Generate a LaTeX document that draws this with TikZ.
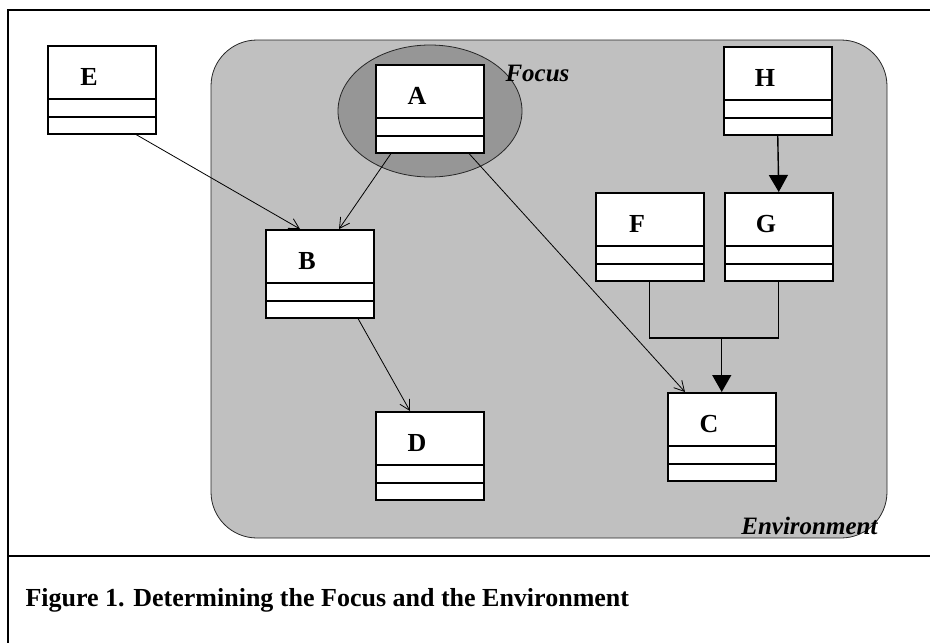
\documentclass[tikz,border=0pt]{standalone}
\usepackage{fontspec}
\setmainfont{Liberation Serif}
\usetikzlibrary{arrows.meta,shapes.geometric}
\definecolor{envgray}{RGB}{192,192,192}
\definecolor{focusgray}{RGB}{150,150,150}

\tikzset{
  classbox/.style={draw, fill=white, line width=1.5pt, anchor=north west,
    inner sep=0pt, minimum width=108pt, minimum height=88pt},
  classname/.style={font=\fontsize{26pt}{26pt}\selectfont\bfseries},
  region/.style={font=\fontsize{25pt}{25pt}\selectfont\bfseries\itshape},
  dep/.style={-{Straight Barb[length=10pt,width=11pt]}, line width=0.8pt},
  gen/.style={-{Triangle[length=17pt,width=19pt]}, line width=1.4pt},
}

% class box: name, top-left corner, title
\newcommand\umlclass[3]{%
  \node[classbox] (#1) at (#2) {};
  \draw[line width=1.5pt] ([yshift=-54pt]#1.north west) -- ([yshift=-54pt]#1.north east);
  \draw[line width=1.5pt] ([yshift=-72pt]#1.north west) -- ([yshift=-72pt]#1.north east);
  \node[classname] (#1-name) at ([shift={(42pt,-32pt)}]#1.north west) {#3};
}

\begin{document}
\begin{tikzpicture}[x=1pt, y=-1pt]

  \useasboundingbox (0,0) rectangle (930,643);

  %% frame and caption
  \draw[line width=1.5pt] (8,643) -- (8,10) -- (930,10);
  \draw[line width=2.5pt] (8,556) -- (930,556);
  \node[font=\fontsize{26pt}{26pt}\selectfont\bfseries, anchor=base west] (caption)
    at (22,606) {Figure 1. Determining the Focus and the Environment};

  %% environment and focus
  \draw[fill=envgray, draw=black!85, line width=0.8pt, rounded corners=46pt]
    (211,40) rectangle (887,538);
  \node[ellipse, draw=black!85, fill=focusgray, line width=0.8pt,
    minimum width=184pt, minimum height=132pt] (focus) at (430,111) {};
  \node[region, anchor=west] (focus-label) at (502,73) {Focus};
  \node[region, anchor=base east] (env-label) at (881,534) {Environment};

  %% classes
  \umlclass{E}{47,45}{E}
  \umlclass{A}{375,64}{A}
  \umlclass{H}{723,46}{H}
  \umlclass{F}{595,192}{F}
  \umlclass{G}{724,192}{G}
  \umlclass{B}{265,229}{B}
  \umlclass{D}{375,411}{D}
  \umlclass{C}{667,392}{C}

  %% connectors
  \draw[dep] ([xshift=89pt]E.south west) -- ([xshift=35pt]B.north west); %% E - B
  \draw[dep] ([xshift=16pt]A.south west) -- ([xshift=74pt]B.north west); %% A - B
  \draw[dep] ([xshift=94pt]A.south west) -- ([xshift=18pt]C.north west); %% A - C
  \draw[dep] ([xshift=93pt]B.south west) -- ([xshift=35pt]D.north west); %% B - D

  \coordinate (merge) at ([yshift=54pt]C.north);
  \draw[gen] (H.south) -- (G.north); %% H - G
  \draw[line width=1.4pt] (F.south) |- (merge) -| (G.south); %% F, G join
  \draw[gen] (merge) -- (C.north); %% join - C

\end{tikzpicture}
\end{document}
